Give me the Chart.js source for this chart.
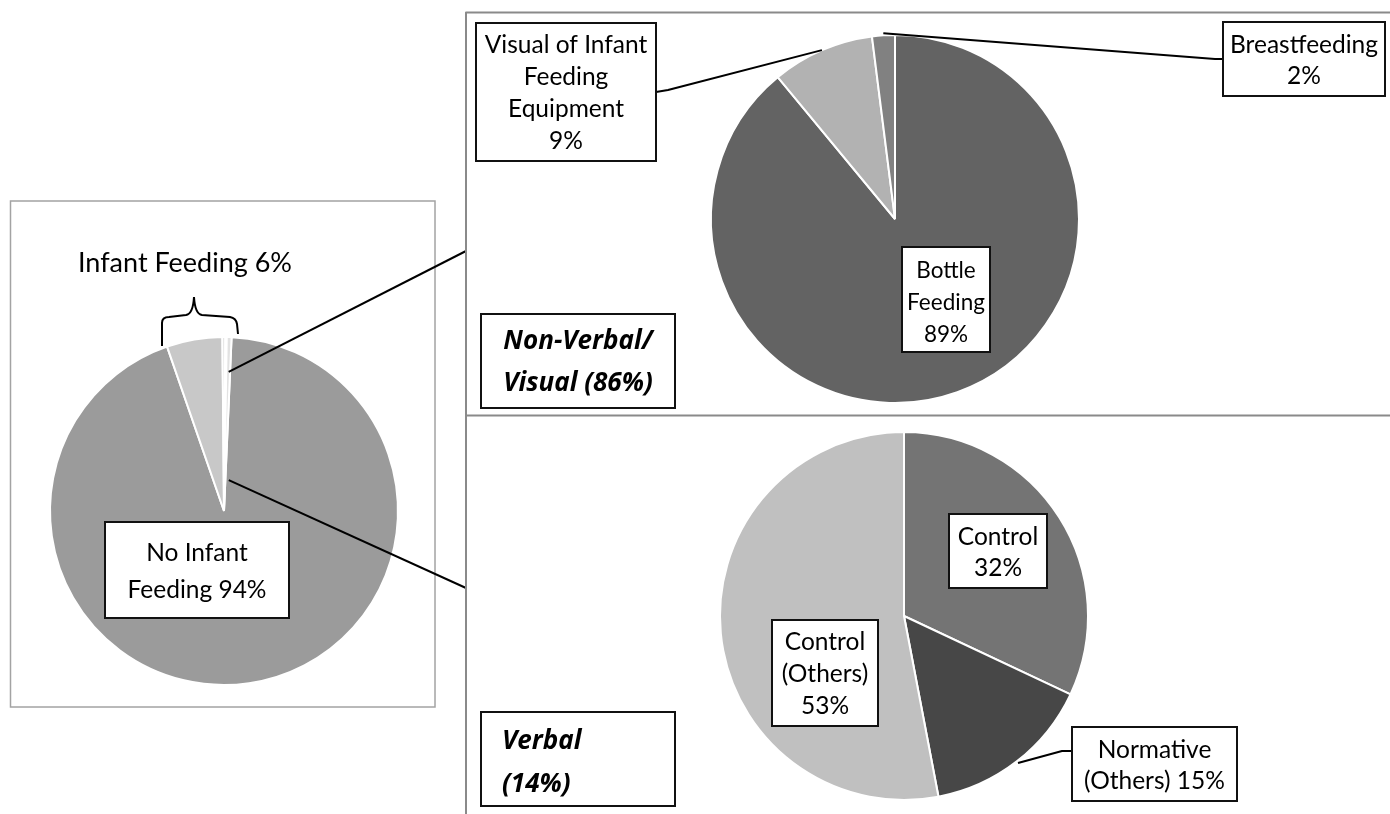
<!DOCTYPE html>
<html>
<head>
<meta charset="utf-8">
<title>Infant feeding content</title>
<script src="https://cdn.jsdelivr.net/npm/chart.js@4.4.1/dist/chart.umd.min.js"></script>
<style>
  html, body { margin: 0; padding: 0; background: #fff; }
  #stage { position: relative; width: 1390px; height: 814px; overflow: hidden; background: #fff; }
  #stage canvas { position: absolute; left: 0; top: 0; }
</style>
</head>
<body>
<div id="stage">
  <canvas id="overallChart" width="1390" height="814"></canvas>
  <canvas id="visualChart" width="1390" height="814"></canvas>
  <canvas id="verbalChart" width="1390" height="814"></canvas>
</div>
<script>
// ---- data -------------------------------------------------------------
// Whole sample: no infant feeding vs. the infant-feeding share, the latter
// split into its non-verbal/visual part and the three verbal categories.
const overallLabels = ['No Infant Feeding', 'Non-Verbal/Visual', 'Verbal: Control', 'Verbal: Normative (Others)', 'Verbal: Control (Others)'];
const overallValues = [94, 5.16, 0.27, 0.13, 0.44];

// Non-verbal / visual portrayals
const visualLabels = ['Bottle Feeding', 'Visual of Infant Feeding Equipment', 'Breastfeeding'];
const visualValues = [89, 9, 2];

// Verbal portrayals
const verbalLabels = ['Control', 'Normative (Others)', 'Control (Others)'];
const verbalValues = [32, 15, 53];

// ---- styling ----------------------------------------------------------
const overallColors = ['#9b9b9b', '#c8c8c8', '#d4d4d4', '#b4b4b4', '#e2e2e2'];
const visualColors = ['#636363', '#b2b2b2', '#818181'];
const verbalColors = ['#747474', '#474747', '#c0c0c0'];

const FONT = 'Lato, "Open Sans", sans-serif';
const TEXT_FONT = '24.5px ' + FONT;
const HEAD_FONT = 'italic bold 26px "Open Sans", Lato, sans-serif';

const pct = v => Math.round(v) + '%';
const sum = a => a.reduce((s, v) => s + v, 0);

const infantShare = sum(overallValues.slice(1));
const visualShare = overallValues[1] / infantShare * 100;
const verbalShare = sum(overallValues.slice(2)) / infantShare * 100;

// ---- drawing helpers --------------------------------------------------
function line(ctx, pts, width, color) {
  ctx.save();
  ctx.beginPath();
  ctx.moveTo(pts[0][0], pts[0][1]);
  for (let i = 1; i < pts.length; i++) ctx.lineTo(pts[i][0], pts[i][1]);
  ctx.lineWidth = width || 2;
  ctx.strokeStyle = color || '#000';
  ctx.lineJoin = 'round';
  ctx.stroke();
  ctx.restore();
}

// A white label box with a black frame and centred (or left) text lines.
function labelBox(ctx, box) {
  const { x, y, w, h, lines, font, lh, align, dy, textX } = box;
  ctx.save();
  ctx.fillStyle = '#fff';
  ctx.fillRect(x, y, w, h);
  ctx.lineWidth = 2;
  ctx.strokeStyle = '#111';
  ctx.strokeRect(x, y, w, h);
  ctx.fillStyle = '#000';
  ctx.font = font || TEXT_FONT;
  ctx.textBaseline = 'alphabetic';
  ctx.textAlign = align || 'center';
  const cx = align === 'left' ? textX : x + w / 2;
  const cy = y + h / 2;
  const n = lines.length;
  lines.forEach((t, i) => {
    const lineCenter = cy + (i - (n - 1) / 2) * lh;
    ctx.fillText(t, cx, lineCenter + 9 + (dy || 0));
  });
  ctx.restore();
}

function arcPoint(arc, angle, r) {
  return [arc.x + Math.cos(angle) * r, arc.y + Math.sin(angle) * r];
}
const midAngle = arc => (arc.startAngle + arc.endAngle) / 2;

const baseOptions = (padding, rotation) => ({
  responsive: false,
  animation: false,
  events: [],
  rotation: rotation,
  layout: { padding: padding },
  elements: { arc: { borderColor: '#ffffff', borderWidth: 2 } },
  plugins: {
    legend: { display: false },
    tooltip: { enabled: false },
    title: { display: false }
  }
});

// ---- overall pie (left panel) ------------------------------------------
const overallDecor = {
  id: 'overallDecor',
  beforeDraw(chart) {
    const ctx = chart.ctx;
    ctx.save();
    ctx.strokeStyle = '#a3a3a3';
    ctx.lineWidth = 1.5;
    ctx.strokeRect(10.5, 201, 424.5, 506);
    ctx.restore();
  },
  afterDraw(chart) {
    const ctx = chart.ctx;
    const arcs = chart.getDatasetMeta(0).data;

    // heading over the infant-feeding slices with a curly brace
    ctx.save();
    ctx.font = '27px ' + FONT;
    ctx.fillStyle = '#000';
    ctx.textAlign = 'center';
    ctx.fillText('Infant Feeding ' + pct(infantShare), 185, 272);
    ctx.beginPath();
    ctx.moveTo(162, 346);
    ctx.lineTo(162, 323);
    ctx.quadraticCurveTo(162, 317, 169, 317);
    ctx.lineTo(186, 315);
    ctx.quadraticCurveTo(193, 314, 194, 297);
    ctx.quadraticCurveTo(195, 314, 202, 315);
    ctx.lineTo(230, 317);
    ctx.quadraticCurveTo(236, 318, 237, 324);
    ctx.lineTo(238, 334);
    ctx.lineWidth = 2;
    ctx.strokeStyle = '#000';
    ctx.stroke();
    ctx.restore();

    // connectors from the infant-feeding slices to the two breakdown panels
    const last = arcs[arcs.length - 1];
    const a = last.endAngle - 0.01;
    line(ctx, [arcPoint(last, a, last.outerRadius * 0.8), [466, 251]], 2);
    line(ctx, [arcPoint(last, a + 0.12, last.outerRadius * 0.18), [466, 588]], 2);

    labelBox(ctx, {
      x: 105, y: 522, w: 184, h: 96, lh: 37,
      lines: ['No Infant', 'Feeding ' + pct(overallValues[0])]
    });
  }
};

new Chart(document.getElementById('overallChart'), {
  type: 'pie',
  data: {
    labels: overallLabels,
    datasets: [{ data: overallValues, backgroundColor: overallColors }]
  },
  options: baseOptions({ left: 49, top: 336, right: 991, bottom: 128 }, 2.5),
  plugins: [overallDecor]
});

// ---- non-verbal / visual pie (upper right) -------------------------------
const visualDecor = {
  id: 'visualDecor',
  beforeDraw(chart) {
    const ctx = chart.ctx;
    // panel frame shared by the two right-hand panels
    line(ctx, [[466, 814], [466, 12.5], [1390, 12.5]], 2, '#8a8a8a');
    line(ctx, [[466, 415.5], [1390, 415.5]], 2, '#8a8a8a');
  },
  afterDraw(chart) {
    const ctx = chart.ctx;
    const arcs = chart.getDatasetMeta(0).data;
    const eq = arcs[1], breast = arcs[2];

    line(ctx, [arcPoint(eq, midAngle(eq), eq.outerRadius), [668, 90], [656, 92]], 2);
    line(ctx, [arcPoint(breast, midAngle(breast), breast.outerRadius + 2), [1215, 59], [1223, 59]], 2);

    labelBox(ctx, {
      x: 476, y: 23, w: 180, h: 138, lh: 32,
      lines: ['Visual of Infant', 'Feeding', 'Equipment', pct(visualValues[1])]
    });
    labelBox(ctx, {
      x: 1223, y: 22, w: 162, h: 74, lh: 31,
      lines: ['Breastfeeding', pct(visualValues[2])]
    });
    labelBox(ctx, {
      x: 902, y: 247, w: 88, h: 105, lh: 32, dy: 1, font: '22.5px ' + FONT,
      lines: ['Bottle', 'Feeding', pct(visualValues[0])]
    });
    labelBox(ctx, {
      x: 481, y: 314, w: 194, h: 94, lh: 42, font: HEAD_FONT, dy: 0,
      lines: ['Non-Verbal/', 'Visual (' + pct(visualShare) + ')']
    });
  }
};

new Chart(document.getElementById('visualChart'), {
  type: 'pie',
  data: {
    labels: visualLabels,
    datasets: [{ data: visualValues, backgroundColor: visualColors }]
  },
  options: baseOptions({ left: 710, top: 34, right: 310, bottom: 410 }, 0),
  plugins: [visualDecor]
});

// ---- verbal pie (lower right) ---------------------------------------------
const verbalDecor = {
  id: 'verbalDecor',
  afterDraw(chart) {
    const ctx = chart.ctx;
    const arcs = chart.getDatasetMeta(0).data;
    const norm = arcs[1];

    line(ctx, [arcPoint(norm, midAngle(norm), norm.outerRadius + 2), [1062, 751], [1072, 751]], 2);

    labelBox(ctx, {
      x: 949, y: 514, w: 98, h: 74, lh: 31,
      lines: ['Control', pct(verbalValues[0])]
    });
    labelBox(ctx, {
      x: 772, y: 620, w: 106, h: 106, lh: 32,
      lines: ['Control', '(Others)', pct(verbalValues[2])]
    });
    labelBox(ctx, {
      x: 1072, y: 727, w: 165, h: 74, lh: 31,
      lines: ['Normative', '(Others) ' + pct(verbalValues[1])]
    });
    labelBox(ctx, {
      x: 481, y: 712, w: 194, h: 94, lh: 43, font: HEAD_FONT, dy: 2,
      align: 'left', textX: 502,
      lines: ['Verbal', '(' + pct(verbalShare) + ')']
    });
  }
};

new Chart(document.getElementById('verbalChart'), {
  type: 'pie',
  data: {
    labels: verbalLabels,
    datasets: [{ data: verbalValues, backgroundColor: verbalColors }]
  },
  options: baseOptions({ left: 719, top: 431, right: 301, bottom: 13 }, 0),
  plugins: [verbalDecor]
});
</script>
</body>
</html>
